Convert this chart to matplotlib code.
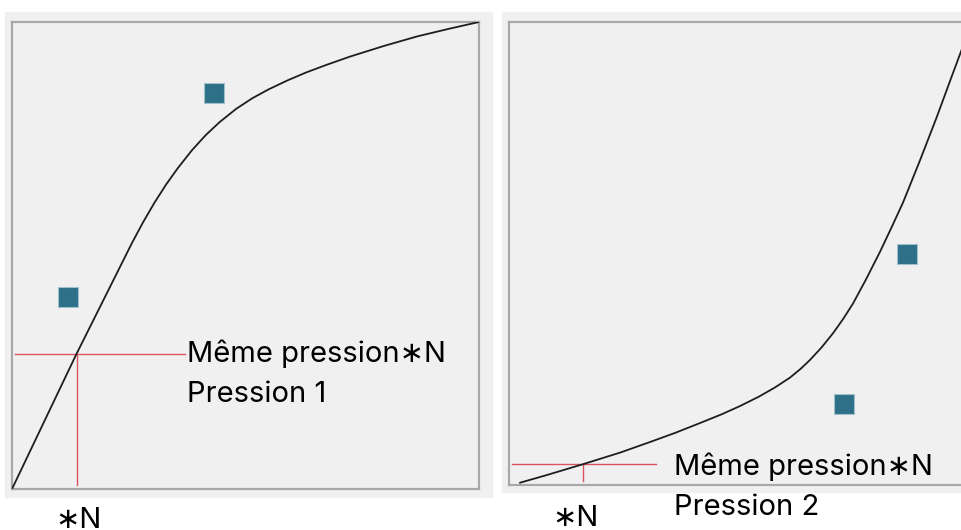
import matplotlib.pyplot as plt
from matplotlib.patches import Rectangle

plt.rcParams['font.family'] = ['Inter', 'DejaVu Sans']

# courbe 1 (panneau gauche)
x1 = [0, 13.7, 17.3, 22.1, 25.7, 28.0, 30.5, 33.0, 35.5, 38.5, 41.5, 44.5, 48.0,
      51.5, 55.0, 59.0, 63.0, 67.0, 72.4, 79.4, 86.7, 93.8, 100]
y1 = [0, 28.7, 35.9, 45.5, 52.7, 57.0, 61.3, 65.2, 68.7, 72.5, 75.8, 78.6, 81.4,
      83.7, 85.6, 87.5, 89.2, 90.7, 92.6, 94.8, 96.9, 98.6, 100]
pts1_x = [11.9, 43.3]
pts1_y = [41.1, 84.8]
ref1 = (13.9, 28.9)

# courbe 2 (panneau droit)
x2 = [2.4, 8.0, 16.0, 24.0, 30.5, 36.0, 41.3, 46.0, 50.0, 54.0, 57.5, 60.7, 63.0,
      65.0, 67.5, 70.0, 72.2, 74.3, 77.0, 80.1, 82.7, 85.1, 88.8, 92.4, 95.9, 100]
y2 = [0.5, 2.1, 4.5, 7.0, 9.3, 11.3, 13.4, 15.3, 17.1, 19.1, 21.1, 23.2, 25.1,
      27.0, 29.7, 32.8, 35.9, 39.2, 44.2, 50.3, 55.8, 61.0, 70.2, 79.5, 89.0, 100]
pts2_x = [86.0, 72.4]
pts2_y = [49.9, 17.5]
ref2 = (16.0, 4.5)

labels = ['Pression 1', 'Pression 2']

W, H = 961, 530
fig = plt.figure(figsize=(W / 100, H / 100), dpi=100)

# fonds gris des deux panneaux
for (l, t, r, b) in [(5, 12, 492, 497), (502, 12, 980, 492)]:
    fig.patches.append(Rectangle((l / W, 1 - b / H), (r - l) / W, (b - t) / H,
                                 transform=fig.transFigure, color='#f0f0f0', zorder=-1))

axes = [fig.add_axes([12 / W, 1 - 489 / H, 467 / W, 467 / H]),
        fig.add_axes([509 / W, 1 - 485 / H, 463 / W, 463 / H])]

# (x, y, carrés x, carrés y, repère, fin trait rouge, x texte, y texte, x ∗N, y ∗N)
data = [(x1, y1, pts1_x, pts1_y, ref1, 37.0, 37.5, 28.9, 14.2, -3.9),
        (x2, y2, pts2_x, pts2_y, ref2, 31.7, 35.6, 3.9, 14.3, -4.3)]

for ax, (x, y, px, py, ref, hx, tx, ty, nx, ny), lab in zip(axes, data, labels):
    ax.set_facecolor('#f0f0f0')
    ax.set_xlim(0, 100)
    ax.set_ylim(0, 100)
    ax.set_xticks([])
    ax.set_yticks([])
    for s in ax.spines.values():
        s.set_color('#a8a8a8')
        s.set_linewidth(1.6)
    ax.plot(x, y, color='#1e1e1e', lw=1.3, zorder=3, solid_joinstyle='round')
    ax.plot(px, py, 's', ms=15, color='#2e7087', mec='#9fc0cc', mew=0.8, zorder=4)
    # repère rouge
    ax.plot([0.6, hx], [ref[1], ref[1]], color='#d95560', lw=1, zorder=2)
    ax.plot([ref[0], ref[0]], [0.8, ref[1]], color='#d95560', lw=1, zorder=2)
    ax.text(tx, ty, 'Même pression∗N', fontsize=21, va='center', ha='left', clip_on=False)
    ax.text(tx, ty - 8.7, lab, fontsize=21, va='center', ha='left', clip_on=False)
    ax.text(nx, ny, '∗N', fontsize=21, va='top', ha='center', clip_on=False)

fig.savefig('out.png', dpi=100)
